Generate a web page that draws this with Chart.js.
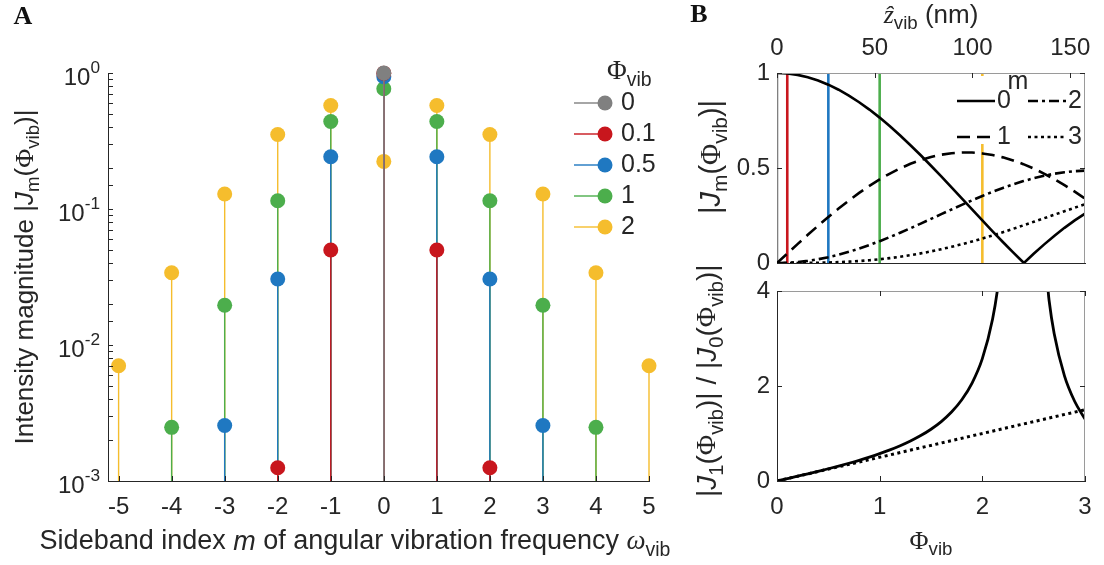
<!DOCTYPE html>
<html>
<head>
<meta charset="utf-8">
<script src="https://cdn.jsdelivr.net/npm/chart.js@4.4.0/dist/chart.umd.min.js"></script>
<style>
  html, body { margin: 0; padding: 0; background: #fff; }
  #wrap { position: relative; width: 1104px; height: 565px; }
  canvas { position: absolute; left: 0; top: 0; }
</style>
</head>
<body>
<div id="wrap">
  <canvas id="chartA" width="1104" height="565"></canvas>
  <canvas id="chartB1" width="1104" height="565"></canvas>
  <canvas id="chartB2" width="1104" height="565"></canvas>
</div>
<script>
// ---- panel A data: |J_m(phi)| per sideband index ----
const sidebandIdx = [-5, -4, -3, -2, -1, 0, 1, 2, 3, 4, 5];
const phiLabels = ['0', '0.1', '0.5', '1', '2'];
const phiValues = [0, 0.1, 0.5, 1, 2];
const phiColors = ['#808080', '#c8161d', '#1f78c1', '#4cae4c', '#f5bd2d'];
const magPhi0  = [null, null, null, null, null, 1, null, null, null, null, null];
const magPhi01 = [null, null, null, 0.00125, 0.0499, 0.9975, 0.0499, 0.00125, null, null, null];
const magPhi05 = [null, null, 0.00256, 0.0306, 0.2423, 0.9385, 0.2423, 0.0306, 0.00256, null, null];
const magPhi1  = [null, 0.00248, 0.0196, 0.1149, 0.4401, 0.7652, 0.4401, 0.1149, 0.0196, 0.00248, null];
const magPhi2  = [0.00704, 0.0340, 0.1289, 0.3528, 0.5767, 0.2239, 0.5767, 0.3528, 0.1289, 0.0340, 0.00704];
const magSeries = [magPhi0, magPhi01, magPhi05, magPhi1, magPhi2];
const yDecades = [0.001, 0.01, 0.1, 1];
const yDecadeExp = ['-3', '-2', '-1', '0'];

// ---- panel B data ----
const phiGrid = [0, 0.1, 0.2, 0.3, 0.4, 0.5, 0.6, 0.7, 0.8, 0.9, 1.0, 1.1, 1.2, 1.3, 1.4, 1.5,
  1.6, 1.7, 1.8, 1.9, 2.0, 2.1, 2.2, 2.3, 2.4, 2.405, 2.5, 2.6, 2.7, 2.8, 2.9, 3.0];
const absJ0 = [1, 0.9975, 0.9900, 0.9776, 0.9604, 0.9385, 0.9120, 0.8812, 0.8463, 0.8075, 0.7652,
  0.7196, 0.6711, 0.6201, 0.5669, 0.5118, 0.4554, 0.3980, 0.3400, 0.2818, 0.2239, 0.1666, 0.1104,
  0.0555, 0.0025, 0, 0.0484, 0.0968, 0.1424, 0.1850, 0.2243, 0.2601];
const absJ1 = [0, 0.0499, 0.0995, 0.1483, 0.1960, 0.2423, 0.2867, 0.3290, 0.3688, 0.4059, 0.4401,
  0.4709, 0.4983, 0.5220, 0.5419, 0.5579, 0.5699, 0.5778, 0.5815, 0.5812, 0.5767, 0.5683, 0.5560,
  0.5399, 0.5202, 0.5192, 0.4971, 0.4708, 0.4416, 0.4097, 0.3754, 0.3391];
const absJ2 = [0, 0.0012, 0.0050, 0.0112, 0.0197, 0.0306, 0.0437, 0.0588, 0.0758, 0.0946, 0.1149,
  0.1366, 0.1593, 0.1830, 0.2074, 0.2321, 0.2570, 0.2817, 0.3061, 0.3299, 0.3528, 0.3746, 0.3951,
  0.4139, 0.4310, 0.4317, 0.4461, 0.4590, 0.4696, 0.4777, 0.4832, 0.4861];
const absJ3 = [0, 0.0000, 0.0002, 0.0006, 0.0013, 0.0026, 0.0044, 0.0070, 0.0103, 0.0146, 0.0196,
  0.0257, 0.0329, 0.0411, 0.0505, 0.0610, 0.0726, 0.0852, 0.0988, 0.1134, 0.1289, 0.1453, 0.1623,
  0.1800, 0.1981, 0.1989, 0.2166, 0.2353, 0.2540, 0.2727, 0.2911, 0.3091];
const zMaxNm = 157.56;   // top axis end (nm) for phi = 3
const zTicks = [0, 50, 100, 150];
const jmTicks = [0, 0.5, 1];
const ratioPhi = [0, 0.1, 0.2, 0.3, 0.4, 0.5, 0.6, 0.7, 0.8, 0.9, 1.0, 1.1, 1.2, 1.3, 1.4, 1.5,
  1.6, 1.7, 1.8, 1.9, 2.0, 2.1, 2.15, 2.2, 2.3, 2.4, 2.5, 2.6, 2.65, 2.7, 2.8, 2.9, 3.0];
const ratioJ1J0 = [0, 0.0501, 0.1005, 0.1517, 0.2041, 0.2582, 0.3144, 0.3734, 0.4358, 0.5027, 0.5751,
  0.6544, 0.7425, 0.8419, 0.9561, 1.0901, 1.2514, 1.4518, 1.7104, 2.0622, 2.5759, 3.4109, 4.067,
  5.038, 9.720, 207.0, 10.27, 4.864, 3.805, 3.100, 2.214, 1.674, 1.304];
const halfPhiX = [0, 3];
const halfPhiY = [0, 1.5];
const phiTicks = [0, 1, 2, 3];
const ratioTicks = [0, 2, 4];

const SANS = '"Liberation Sans", Arial, sans-serif';
const SERIF = '"Liberation Serif", "Times New Roman", serif';
const AXIS = '#262626';
const FT = 24;   // tick labels
const FL = 26;   // axis titles / legends
Chart.defaults.font.family = SANS;
Chart.defaults.color = AXIS;

// rich text: parts with sub/superscripts, italics, serif glyphs
function T(t, o) { return Object.assign({ t: t }, o || {}); }
function partFont(p, size) {
  const sz = (p.sub || p.sup) ? size * 0.72 : size;
  return (p.bold ? 'bold ' : '') + (p.italic ? 'italic ' : '') + sz + 'px ' + (p.serif ? SERIF : SANS);
}
function drawRich(ctx, parts, x, y, size, align, angle) {
  ctx.save();
  ctx.translate(x, y);
  if (angle) ctx.rotate(angle);
  let w = 0;
  parts.forEach(p => { ctx.font = partFont(p, size); p.w = ctx.measureText(p.t).width; w += p.w; });
  let cx = align === 'center' ? -w / 2 : (align === 'right' ? -w : 0);
  ctx.textAlign = 'left';
  ctx.textBaseline = 'middle';
  ctx.fillStyle = AXIS;
  parts.forEach(p => {
    ctx.font = partFont(p, size);
    const dy = p.sub ? size * 0.32 : (p.sup ? -size * 0.42 : 0);
    ctx.fillText(p.t, cx, dy);
    cx += p.w;
  });
  ctx.restore();
}
function phiVib() { return [T('\u03A6', { serif: true }), T('vib', { sub: true })]; }
function tickSeg(ctx, x1, y1, x2, y2) { ctx.moveTo(x1, y1); ctx.lineTo(x2, y2); }
function label(ctx, text, x, y, align) {
  ctx.font = FT + 'px ' + SANS;
  ctx.fillStyle = AXIS;
  ctx.textAlign = align;
  ctx.textBaseline = 'middle';
  ctx.fillText(text, x, y);
}
function hiddenAxis(extra) {
  return Object.assign({
    type: 'linear',
    ticks: { display: false },
    grid: { drawOnChartArea: false, drawTicks: false },
    border: { color: AXIS, width: 1 }
  }, extra);
}

// ================= panel A =================
const yMinA = 0.001;
const stemSets = magSeries.map((vals, k) => {
  const pts = [];
  sidebandIdx.forEach((m, i) => {
    if (vals[i] === null) return;
    pts.push({ x: m, y: yMinA }, { x: m, y: vals[i], top: true }, { x: m, y: null });
  });
  return {
    label: phiLabels[k],
    data: pts,
    borderColor: phiColors[k],
    backgroundColor: phiColors[k],
    borderWidth: 1.4,
    pointRadius: c => (c.raw && c.raw.top ? 7.5 : 0),
    pointBackgroundColor: phiColors[k],
    pointBorderWidth: 0,
    spanGaps: false,
    tension: 0,
    clip: false
  };
});

const panelAPlugin = {
  id: 'panelA',
  afterDraw(chart) {
    const { ctx, chartArea: a, scales: { x, y } } = chart;
    ctx.save();
    ctx.strokeStyle = AXIS;
    ctx.lineWidth = 1;
    ctx.beginPath();
    y.ticks.forEach(t => {
      const py = Math.round(y.getPixelForValue(t.value)) + 0.5;
      tickSeg(ctx, a.left, py, a.left + 5, py);
    });
    sidebandIdx.forEach(m => {
      const px = Math.round(x.getPixelForValue(m)) + 0.5;
      tickSeg(ctx, px, a.bottom, px, a.bottom - 5);
    });
    ctx.stroke();

    sidebandIdx.forEach(m => label(ctx, String(m), x.getPixelForValue(m), 507, 'center'));
    yDecades.forEach((v, i) => {
      drawRich(ctx, [T('10'), T(yDecadeExp[i], { sup: true })], a.left - 8, y.getPixelForValue(v) + 5, FT, 'right');
    });
    drawRich(ctx, [T('Intensity magnitude |'), T('J', { italic: true }), T('m', { sub: true }), T('(')]
      .concat(phiVib(), [T(')|')]), 26, (a.top + a.bottom) / 2, FL, 'center', -Math.PI / 2);
    drawRich(ctx, [T('Sideband index '), T('m', { italic: true }), T(' of angular vibration frequency '),
      T('\u03C9', { serif: true, italic: true }), T('vib', { sub: true })], 355, 542, FL + 1, 'center');

    // legend
    drawRich(ctx, phiVib(), 607, 72, FL + 1, 'left');
    phiLabels.forEach((lab, k) => {
      const ly = 103 + k * 31;
      ctx.strokeStyle = phiColors[k];
      ctx.lineWidth = 1.4;
      ctx.beginPath();
      tickSeg(ctx, 574, ly, 605, ly);
      ctx.stroke();
      ctx.fillStyle = phiColors[k];
      ctx.beginPath();
      ctx.arc(605, ly, 7.5, 0, Math.PI * 2);
      ctx.fill();
      drawRich(ctx, [T(lab)], 621, ly, FL - 1, 'left');
    });

    ctx.font = 'bold 26px ' + SERIF;
    ctx.fillStyle = '#111';
    ctx.textAlign = 'center';
    ctx.textBaseline = 'middle';
    ctx.fillText('A', 23, 17);
    ctx.restore();
  }
};

new Chart(document.getElementById('chartA'), {
  type: 'line',
  data: { datasets: stemSets },
  options: {
    responsive: false,
    animation: false,
    events: [],
    layout: { padding: { left: 108, top: 73, right: 1104 - 649, bottom: 565 - 481 } },
    plugins: { legend: { display: false }, tooltip: { enabled: false } },
    scales: {
      x: hiddenAxis({ min: -5.2, max: 5, afterFit(s) { s.height = 0; } }),
      y: hiddenAxis({ type: 'logarithmic', min: yMinA, max: 1, afterFit(s) { s.width = 0; } })
    }
  },
  plugins: [panelAPlugin]
});

// ================= panel B (top) =================
function curve(xs, ys) { return xs.map((v, i) => ({ x: v, y: ys[i] })); }
const besselSets = [
  { label: '0', data: curve(phiGrid, absJ0), borderDash: [] },
  { label: '1', data: curve(phiGrid, absJ1), borderDash: [13, 7] },
  { label: '2', data: curve(phiGrid, absJ2), borderDash: [10, 4, 3, 4] },
  { label: '3', data: curve(phiGrid, absJ3), borderDash: [3, 3.5] }
].map(d => Object.assign(d, { borderColor: '#000', borderWidth: 2.6, pointRadius: 0, tension: 0 }));
const markerSets = phiValues.map((p, k) => ({
  label: 'phi ' + phiLabels[k],
  data: [{ x: p, y: 0 }, { x: p, y: 1 }],
  borderColor: phiColors[k],
  borderWidth: 2.6,
  pointRadius: 0
}));

function boxFrame(ctx, a) {
  ctx.strokeStyle = '#9a9a9a';
  ctx.lineWidth = 1;
  ctx.beginPath();
  tickSeg(ctx, a.left, a.top + 0.5, a.right, a.top + 0.5);
  tickSeg(ctx, a.right - 0.5, a.top, a.right - 0.5, a.bottom);
  ctx.stroke();
}

const panelB1Plugin = {
  id: 'panelB1',
  afterDatasetsDraw(chart) {
    const { ctx } = chart;
    ctx.save();
    ctx.fillStyle = '#fff';
    ctx.fillRect(950, 76, 134, 68);
    drawRich(ctx, [T('m')], 1018, 82, FL - 1, 'center');
    const items = [
      { lab: '0', x: 957, y: 101, dash: [] },
      { lab: '2', x: 1028, y: 101, dash: [10, 4, 3, 4] },
      { lab: '1', x: 957, y: 137, dash: [13, 7] },
      { lab: '3', x: 1028, y: 137, dash: [3, 3.5] }
    ];
    items.forEach(it => {
      ctx.strokeStyle = '#000';
      ctx.lineWidth = 2.6;
      ctx.setLineDash(it.dash);
      ctx.beginPath();
      tickSeg(ctx, it.x, it.y, it.x + 38, it.y);
      ctx.stroke();
      ctx.setLineDash([]);
      drawRich(ctx, [T(it.lab)], it.x + 40, it.y, FL - 1, 'left');
    });
    ctx.restore();
  },
  afterDraw(chart) {
    const { ctx, chartArea: a, scales: { y, x2 } } = chart;
    ctx.save();
    boxFrame(ctx, a);
    ctx.strokeStyle = AXIS;
    ctx.beginPath();
    jmTicks.forEach(v => {
      const py = Math.round(y.getPixelForValue(v)) + 0.5;
      tickSeg(ctx, a.left, py, a.left + 5, py);
      tickSeg(ctx, a.right, py, a.right - 5, py);
    });
    zTicks.forEach(v => {
      const px = Math.round(x2.getPixelForValue(v)) + 0.5;
      tickSeg(ctx, px, a.top, px, a.top + 5);
    });
    ctx.stroke();

    zTicks.forEach(v => label(ctx, String(v), x2.getPixelForValue(v), 48, 'center'));
    jmTicks.forEach(v => label(ctx, String(v), a.left - 7, y.getPixelForValue(v), 'right'));

    drawRich(ctx, [T('\u1E91', { serif: true, italic: true }), T('vib', { sub: true }), T(' (nm)')],
      (a.left + a.right) / 2, 16, FL, 'center');
    drawRich(ctx, [T('|'), T('J', { italic: true }), T('m', { sub: true }), T('(')].concat(phiVib(), [T(')|')]),
      712, 214, FL + 3, 'left', -Math.PI / 2);

    ctx.font = 'bold 26px ' + SERIF;
    ctx.fillStyle = '#111';
    ctx.textAlign = 'center';
    ctx.textBaseline = 'middle';
    ctx.fillText('B', 699, 15);
    ctx.restore();
  }
};

new Chart(document.getElementById('chartB1'), {
  type: 'line',
  data: { datasets: besselSets.concat(markerSets) },
  options: {
    responsive: false,
    animation: false,
    events: [],
    layout: { padding: { left: 777, top: 73, right: 1104 - 1085, bottom: 565 - 263 } },
    plugins: { legend: { display: false }, tooltip: { enabled: false } },
    scales: {
      x: hiddenAxis({ min: 0, max: 3, afterFit(s) { s.height = 0; } }),
      x2: hiddenAxis({ position: 'top', min: 0, max: zMaxNm, border: { display: false }, afterFit(s) { s.height = 0; } }),
      y: hiddenAxis({ min: 0, max: 1, afterFit(s) { s.width = 0; } })
    }
  },
  plugins: [panelB1Plugin]
});

// ================= panel B (bottom) =================
const panelB2Plugin = {
  id: 'panelB2',
  afterDraw(chart) {
    const { ctx, chartArea: a, scales: { x, y } } = chart;
    ctx.save();
    boxFrame(ctx, a);
    ctx.strokeStyle = AXIS;
    ctx.beginPath();
    phiTicks.forEach(v => {
      const px = Math.round(x.getPixelForValue(v)) + 0.5;
      tickSeg(ctx, px, a.bottom, px, a.bottom - 5);
      tickSeg(ctx, px, a.top, px, a.top + 5);
    });
    ratioTicks.forEach(v => {
      const py = Math.round(y.getPixelForValue(v)) + 0.5;
      tickSeg(ctx, a.left, py, a.left + 5, py);
      tickSeg(ctx, a.right, py, a.right - 5, py);
    });
    ctx.stroke();

    phiTicks.forEach(v => label(ctx, String(v), x.getPixelForValue(v), 507, 'center'));
    ratioTicks.forEach(v => label(ctx, String(v), a.left - 7, y.getPixelForValue(v), 'right'));

    drawRich(ctx, phiVib(), (a.left + a.right) / 2, 542, FL, 'center');
    drawRich(ctx, [T('|'), T('J', { italic: true }), T('1', { sub: true }), T('(')].concat(phiVib(),
      [T(')| / |'), T('J', { italic: true }), T('0', { sub: true }), T('(')], phiVib(), [T(')|')]),
      708, 497, FL + 2, 'left', -Math.PI / 2);
    ctx.restore();
  }
};

new Chart(document.getElementById('chartB2'), {
  type: 'line',
  data: {
    datasets: [
      { label: 'ratio', data: curve(ratioPhi, ratioJ1J0), borderColor: '#000', borderWidth: 2.8,
        pointRadius: 0, cubicInterpolationMode: 'monotone' },
      { label: 'half', data: curve(halfPhiX, halfPhiY), borderColor: '#000', borderWidth: 3,
        borderDash: [3, 3.5], pointRadius: 0 }
    ]
  },
  options: {
    responsive: false,
    animation: false,
    events: [],
    layout: { padding: { left: 777, top: 291, right: 1104 - 1085, bottom: 565 - 481 } },
    plugins: { legend: { display: false }, tooltip: { enabled: false } },
    scales: {
      x: hiddenAxis({ min: 0, max: 3, afterFit(s) { s.height = 0; } }),
      y: hiddenAxis({ min: 0, max: 4, afterFit(s) { s.width = 0; } })
    }
  },
  plugins: [panelB2Plugin]
});
</script>
</body>
</html>
